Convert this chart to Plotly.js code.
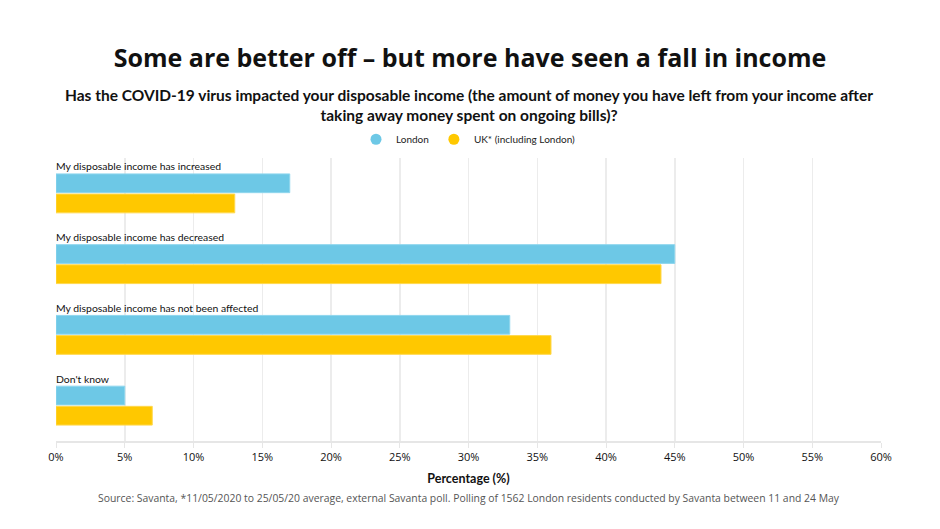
<!DOCTYPE html>
<html>
<head>
<meta charset="utf-8">
<script src="https://cdn.plot.ly/plotly-3.0.1.min.js"></script>
<style>html,body{margin:0;padding:0;background:#fff;}#chart{width:940px;height:529px;}</style>
</head>
<body>
<div id="chart"></div>
<script>
const categories = [
  "My disposable income has increased",
  "My disposable income has decreased",
  "My disposable income has not been affected",
  "Don't know"
];
const londonValues = [17, 45, 33, 5];
const ukValues = [13, 44, 36, 7];
const seriesNames = ["London", "UK* (including London)"];
const seriesColors = ["#6DC8E6", "#FFC800"];
const tickValues = [0, 5, 10, 15, 20, 25, 30, 35, 40, 45, 50, 55, 60];
const tickLabels = tickValues.map(v => v + "%");

const bodyFont = "Lato, 'Noto Sans', sans-serif";

const traces = [
  {type: "bar", orientation: "h", name: seriesNames[0], y: categories, x: londonValues,
   marker: {color: seriesColors[0], line: {color: "#8fd6ee", width: 1}}, showlegend: false},
  {type: "bar", orientation: "h", name: seriesNames[1], y: categories, x: ukValues,
   marker: {color: seriesColors[1], line: {color: "#ffd84d", width: 1}}, showlegend: false},
  // legend-only entries with circular symbols
  {type: "scatter", mode: "markers", name: seriesNames[0], x: [null], y: [null],
   marker: {symbol: "circle", size: 11, color: seriesColors[0]}},
  {type: "scatter", mode: "markers", name: seriesNames[1], x: [null], y: [null],
   marker: {symbol: "circle", size: 11, color: seriesColors[1]}}
];

const annotations = categories.map(c => ({
  x: 0, xref: "x", y: c, yref: "y", yshift: 27, xshift: -2, xanchor: "left", yanchor: "middle",
  text: c, showarrow: false, font: {family: bodyFont, size: 10.4, color: "#111"}
}));
annotations.push({
  text: "Has the COVID-19 virus impacted your disposable income (the amount of money you have left from your income after<br>taking away money spent on ongoing bills)?",
  xref: "paper", yref: "paper", x: 0.5, y: 1, yshift: 53, xanchor: "center", yanchor: "middle",
  showarrow: false, font: {family: bodyFont, size: 15.5, color: "#111", weight: 700}
});
annotations.push({
  text: "Source: Savanta, *11/05/2020 to 25/05/20 average, external Savanta poll. Polling of 1562 London residents conducted by Savanta between 11 and 24 May",
  xref: "paper", yref: "paper", x: 0.5, y: 0, yshift: -57, xanchor: "center", yanchor: "middle",
  showarrow: false, font: {family: "'Open Sans', sans-serif", size: 10.4, color: "#555"}
});

const layout = {
  width: 940, height: 529,
  margin: {l: 56, r: 59, t: 158, b: 88},
  paper_bgcolor: "#fff", plot_bgcolor: "#fff",
  title: {text: "Some are better off – but more have seen a fall in income",
          x: 0.5, xanchor: "center", y: 0.89, yanchor: "middle",
          font: {family: "'Open Sans', sans-serif", size: 25, color: "#111", weight: 700}},
  barmode: "group", bargap: 0.43, bargroupgap: 0.07,
  showlegend: true,
  legend: {orientation: "h", x: 0.5, xanchor: "center", y: 1.015, yref: "paper", yanchor: "bottom",
           font: {family: bodyFont, size: 10, color: "#222"}, itemwidth: 30,
           traceorder: "normal", tracegroupgap: 0},
  xaxis: {range: [0, 60], tickvals: tickValues, ticktext: tickLabels,
          showgrid: true, gridcolor: "#ececec", gridwidth: 1.5, zeroline: false,
          showline: true, linecolor: "#e6e6e6", linewidth: 1.5,
          ticks: "outside", ticklen: 5, tickcolor: "#e6e6e6",
          tickfont: {family: "'Open Sans', sans-serif", size: 11, color: "#111"},
          title: {text: "Percentage (%)", standoff: 11, font: {family: bodyFont, size: 12.5, color: "#111", weight: 700}},
          fixedrange: true},
  yaxis: {type: "category", autorange: "reversed", showticklabels: false, showgrid: false,
          zeroline: false, showline: false, ticks: "", fixedrange: true},
  annotations: annotations
};

Plotly.newPlot("chart", traces, layout, {displayModeBar: false, staticPlot: true});
</script>
</body>
</html>
